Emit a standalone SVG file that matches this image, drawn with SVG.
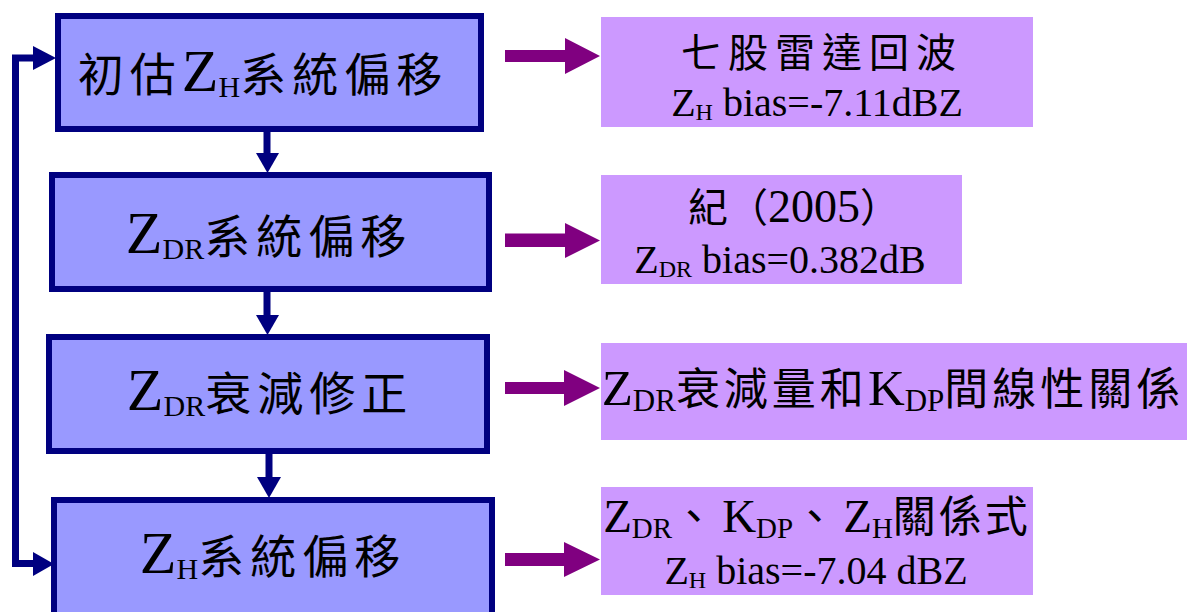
<svg xmlns="http://www.w3.org/2000/svg" width="1194" height="612" viewBox="0 0 1194 612">
<style>
.bbox{fill:#9999FF;stroke:#000080;stroke-width:6}
.pbox{fill:#CC99FF;stroke:none}
.conn{stroke:#000080;stroke-width:7;fill:none}
.head{fill:#000080}
.parr{fill:#800080}
text{fill:#000;font-family:"Liberation Serif","Noto Sans CJK TC",serif}
.cj{font-family:"Noto Sans CJK TC","Liberation Serif",serif}
.b{font-size:60px;text-anchor:middle}
.b .cj{font-size:46px;letter-spacing:6px}
.sub{font-size:30px}
.r{text-anchor:middle;font-size:40px}
.r .cj{font-size:40px;letter-spacing:7px}
.rs{font-size:24px}
</style>
<g id="connectors">
<path class="conn" d="M40 58 H15.5 V563.5 H36"/>
<polygon class="head" points="33,46 56,58 33,70"/>
<polygon class="head" points="33,552 54,564 33,576"/>
<path class="conn" d="M267 132 V156"/>
<polygon class="head" points="256,153 279,153 267.5,173"/>
<path class="conn" d="M267 292 V318"/>
<polygon class="head" points="256,315 279,315 267.5,335"/>
<path class="conn" d="M269 454 V480"/>
<polygon class="head" points="257,477 281,477 269,498"/>
<polygon class="parr" points="505,50 565,50 565,38 600,56 565,74 565,62 505,62"/>
<polygon class="parr" points="505,233.5 565,233.5 565,223 600,240.5 565,258 565,247 505,247"/>
<polygon class="parr" points="505,382 564,382 564,370 600,388 564,406 564,394 505,394"/>
<polygon class="parr" points="505,553 564,553 564,542 600,559.5 564,577 564,566 505,566"/>
</g>
<g id="n1">
<rect class="bbox" x="58" y="16" width="423" height="113"/>
<text class="b" x="263" y="91"><tspan class="cj">初估</tspan><tspan>Z</tspan><tspan class="sub" dy="6">H</tspan><tspan class="cj" dy="-6">系統偏移</tspan></text>
</g>
<g id="n2">
<rect class="bbox" x="52" y="175" width="437" height="114"/>
<text class="b" x="269" y="253"><tspan>Z</tspan><tspan class="sub" dy="6">DR</tspan><tspan class="cj" dy="-6">系統偏移</tspan></text>
</g>
<g id="n3">
<rect class="bbox" x="49" y="337" width="438" height="114"/>
<text class="b" x="270" y="410"><tspan>Z</tspan><tspan class="sub" dy="6">DR</tspan><tspan class="cj" dy="-6">衰減修正</tspan></text>
</g>
<g id="n4">
<rect class="bbox" x="54" y="500" width="438" height="122"/>
<text class="b" x="273" y="573"><tspan>Z</tspan><tspan class="sub" dy="6">H</tspan><tspan class="cj" dy="-6">系統偏移</tspan></text>
</g>
<g id="r1">
<rect class="pbox" x="601" y="17" width="432" height="110"/>
<text class="r" x="822" y="67"><tspan class="cj">七股雷達回波</tspan></text>
<text class="r" x="817" y="116"><tspan>Z</tspan><tspan class="rs" dy="4">H</tspan><tspan dy="-4"> bias=-7.11dBZ</tspan></text>
</g>
<g id="r2">
<rect class="pbox" x="601" y="175" width="361" height="109"/>
<text class="r" x="794" y="222"><tspan class="cj" style="letter-spacing:0">紀（</tspan><tspan font-size="46">2005</tspan><tspan class="cj" style="letter-spacing:0">）</tspan></text>
<text class="r" x="780" y="273"><tspan>Z</tspan><tspan class="rs" dy="4">DR</tspan><tspan dy="-4"> bias=0.382dB</tspan></text>
</g>
<g id="r3">
<rect class="pbox" x="601" y="343" width="586" height="97"/>
<text class="r" x="893" y="405" style="font-size:51px"><tspan>Z</tspan><tspan class="rs" dy="6" style="font-size:31px">DR</tspan><tspan class="cj" dy="-6" style="font-size:44px;letter-spacing:4px">衰減量和</tspan><tspan>K</tspan><tspan class="rs" dy="6" style="font-size:31px">DP</tspan><tspan class="cj" dy="-6" style="font-size:44px;letter-spacing:4px">間線性關係</tspan></text>
</g>
<g id="r4">
<rect class="pbox" x="601" y="487" width="432" height="108"/>
<text class="r" x="817" y="532" style="font-size:47px"><tspan>Z</tspan><tspan class="rs" dy="6" style="font-size:29px">DR</tspan><tspan class="cj" dy="-6" style="font-size:43px">、</tspan><tspan>K</tspan><tspan class="rs" dy="6" style="font-size:29px">DP</tspan><tspan class="cj" dy="-6" style="font-size:43px">、</tspan><tspan>Z</tspan><tspan class="rs" dy="6" style="font-size:29px">H</tspan><tspan class="cj" dy="-6" style="font-size:43px;letter-spacing:3px">關係式</tspan></text>
<text class="r" x="816" y="584"><tspan>Z</tspan><tspan class="rs" dy="4">H</tspan><tspan dy="-4"> bias=-7.04 dBZ</tspan></text>
</g>
</svg>
